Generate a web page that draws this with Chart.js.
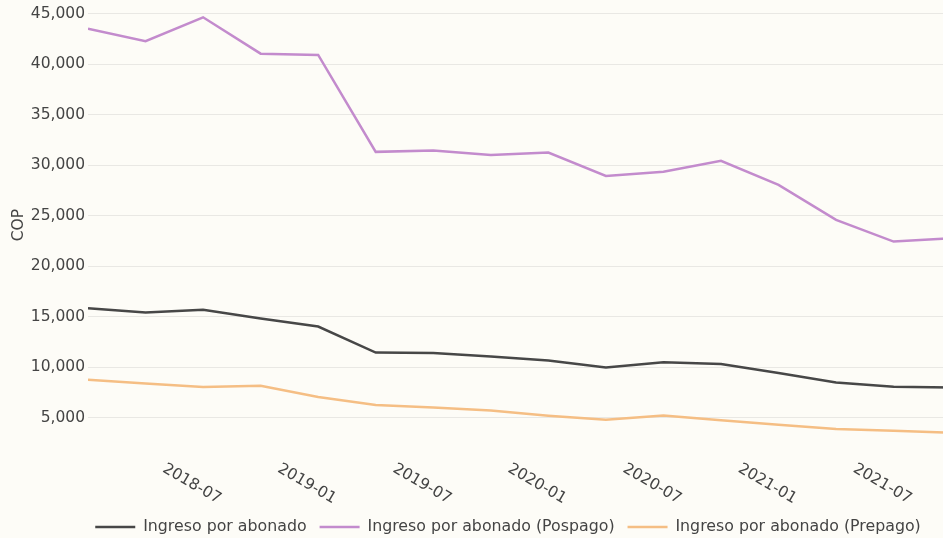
<!DOCTYPE html>
<html><head><meta charset="utf-8">
<script src="https://cdn.jsdelivr.net/npm/chart.js@4.4.0/dist/chart.umd.min.js"></script>
<style>
html,body{margin:0;padding:0;background:#fdfcf7;overflow:hidden;width:943px;height:538px;position:relative;}
#wrap{position:absolute;left:0;top:-4px;}
canvas{display:block;}
</style></head><body>
<div id="wrap"><canvas id="c" width="1016" height="549"></canvas></div>
<script>
// ---- data ----
const periods = ['2018-03','2018-06','2018-09','2018-12','2019-03','2019-06','2019-09','2019-12',
                 '2020-03','2020-06','2020-09','2020-12','2021-03','2021-06','2021-09','2021-12'];
const tickLabels = ['2018-07','2019-01','2019-07','2020-01','2020-07','2021-01','2021-07'];
const yTicks = [5000,10000,15000,20000,25000,30000,35000,40000,45000];
const seriesNames = ['Ingreso por abonado','Ingreso por abonado (Pospago)','Ingreso por abonado (Prepago)'];
const ingresoTotal   = [15860,15430,15690,14830,14040,11460,11410,11070,10670,9980,10510,10320,9430,8500,8070,7990];
const ingresoPospago = [43550,42300,44670,41070,40940,31340,31470,31040,31270,28960,29360,30450,28070,24600,22450,22780];
const ingresoPrepago = [8760,8400,8040,8170,7050,6260,6020,5720,5200,4800,5230,4750,4310,3880,3710,3520];
const yAxisTitle = 'COP';

const colors = ['#474747','#c38bcd','#f5be84'];
const TEXT = '#444444';
const FAMILY = '"DejaVu Sans", Verdana, sans-serif';
const FS = 15.5;
const FS_LEG = 15.8;

function monthIndex(p){ const [y,m] = p.split('-').map(Number); return (y-2018)*12 + m; }
function pts(vals){ return periods.map((p,i)=>({x: monthIndex(p), y: vals[i]})); }

Chart.defaults.font.family = FAMILY;
Chart.defaults.font.size = FS;
Chart.defaults.color = TEXT;

const xTickLabels = {
  id: 'xTickLabels',
  afterDraw(chart){
    const ctx = chart.ctx, xs = chart.scales.x, area = chart.chartArea;
    ctx.save();
    ctx.font = FS + 'px ' + FAMILY;
    ctx.fillStyle = TEXT;
    ctx.textAlign = 'left';
    ctx.textBaseline = 'middle';
    tickLabels.forEach(l => {
      const x = xs.getPixelForValue(monthIndex(l));
      ctx.save();
      ctx.translate(x - 1, area.bottom + 13.5);
      ctx.rotate(Math.PI / 6);
      ctx.fillText(l, 0, 0);
      ctx.restore();
    });
    ctx.restore();
  }
};

const series = [ingresoTotal, ingresoPospago, ingresoPrepago];
new Chart(document.getElementById('c'), {
  type: 'line',
  data: {
    datasets: series.map((s,i)=>({
      label: seriesNames[i],
      data: pts(s),
      borderColor: colors[i],
      backgroundColor: colors[i],
      borderWidth: 2.5,
      pointRadius: 0,
      tension: 0,
      fill: false
    }))
  },
  options: {
    responsive: false,
    animation: false,
    devicePixelRatio: 1,
    layout: { padding: 0 },
    plugins: {
      tooltip: { enabled: false },
      legend: {
        position: 'bottom',
        labels: {
          usePointStyle: true,
          pointStyle: 'line',
          pointStyleWidth: 40,
          padding: 13,
          color: TEXT,
          font: { size: FS_LEG, family: FAMILY }
        }
      }
    },
    scales: {
      x: {
        type: 'linear',
        min: monthIndex(periods[0]),
        max: 51.38,
        grid: { display: false },
        border: { display: false },
        ticks: { display: false },
        afterFit(s){ s.height = 52; s.paddingLeft = 0; s.paddingRight = 0; }
      },
      y: {
        min: 1390,
        max: 46780,
        border: { display: false },
        grid: { color: '#e9e8e4', lineWidth: 1, drawTicks: false },
        ticks: {
          padding: 3,
          color: TEXT,
          font: { size: FS, family: FAMILY },
          callback: v => Number(v).toLocaleString('en-US')
        },
        afterBuildTicks(s){ s.ticks = yTicks.map(v => ({ value: v })); },
        title: {
          display: true,
          text: yAxisTitle,
          color: TEXT,
          font: { size: FS, family: FAMILY },
          padding: { top: 10, bottom: 0 }
        },
        afterFit(s){ s.width = 88; s.paddingTop = 0; s.paddingBottom = 0; }
      }
    }
  },
  plugins: [xTickLabels]
});
</script>
</body></html>
